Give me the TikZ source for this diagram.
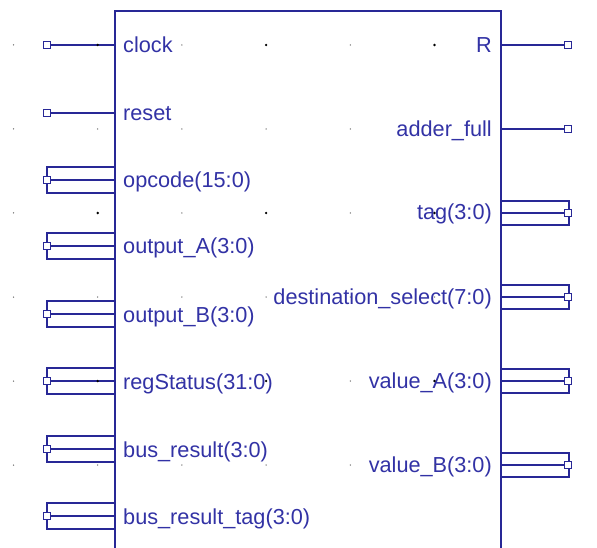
\documentclass[tikz,border=0pt]{standalone}
\usepackage{fontspec}
\setmainfont{Liberation Sans}
\definecolor{schem}{RGB}{40,40,150}
\definecolor{labelblue}{RGB}{50,50,165}
\begin{document}
\begin{tikzpicture}[x=1pt,y=-1pt,
  body/.style={draw=schem, line width=1.3pt},
  pinwire/.style={draw=schem, line width=1.1pt},
  busframe/.style={draw=schem, line width=1.1pt},
  pinsq/.style={rectangle, draw=schem, fill=white, line width=1pt,
                minimum size=7.5pt, inner sep=0pt},
  lbl/.style={text=labelblue, font=\fontsize{21.7}{24}\selectfont, inner sep=0pt},
  minordot/.style={fill=black!55},
  majordot/.style={fill=black}]
\useasboundingbox (0,0) rectangle (597,548);
\clip (0,0) rectangle (597,548);

% component body (continues below the sheet edge)
\draw[body] (115,11) rectangle (501,600);

% left single-bit inputs
\foreach \y/\txt [count=\i] in {45/clock, 113/reset} {
  \coordinate (ls\i-b) at (115,\y);
  \node[pinsq] (ls\i-t) at (47,\y) {};
  \draw[pinwire] (ls\i-t) -- (ls\i-b);
  \node[lbl, anchor=base west] (ls\i-l) at (123,\y+8) {\txt};
}

% left bus inputs
\foreach \y/\txt [count=\i] in {180/opcode(15:0), 246/output\_A(3:0),
    314/output\_B(3:0), 381/regStatus(31:0), 449/bus\_result(3:0),
    516/bus\_result\_tag(3:0)} {
  \draw[busframe] (47,\y-13) rectangle (115,\y+13);
  \coordinate (lb\i-b) at (115,\y);
  \node[pinsq] (lb\i-t) at (47,\y) {};
  \draw[pinwire] (lb\i-t) -- (lb\i-b);
  \node[lbl, anchor=base west] (lb\i-l) at (123,\y+8) {\txt};
}

% right single-bit outputs
\foreach \y/\txt [count=\i] in {45/R, 129/adder\_full} {
  \coordinate (rs\i-b) at (501,\y);
  \node[pinsq] (rs\i-t) at (568,\y) {};
  \draw[pinwire] (rs\i-b) -- (rs\i-t);
  \node[lbl, anchor=base east] (rs\i-l) at (492,\y+8) {\txt};
}

% right bus outputs
\foreach \y/\txt [count=\i] in {213/tag(3:0), 297/destination\_select(7:0),
    381/value\_A(3:0), 465/value\_B(3:0)} {
  \draw[busframe] (501,\y-12) rectangle (569,\y+12);
  \coordinate (rb\i-b) at (501,\y);
  \node[pinsq] (rb\i-t) at (568,\y) {};
  \draw[pinwire] (rb\i-b) -- (rb\i-t);
  \node[lbl, anchor=base east] (rb\i-l) at (492,\y+7) {\txt};
}

% snap grid
\foreach \c in {0,...,5} {
  \foreach \r in {0,...,5} {
    \fill[minordot] (13.5+84.2*\c, 45+84*\r) circle (0.75);
  }
}
\foreach \c in {1,3,5} {
  \foreach \r in {0,2,4} {
    \fill[majordot] (13.5+84.2*\c, 45+84*\r) circle (1.3);
  }
}
\end{tikzpicture}
\end{document}
